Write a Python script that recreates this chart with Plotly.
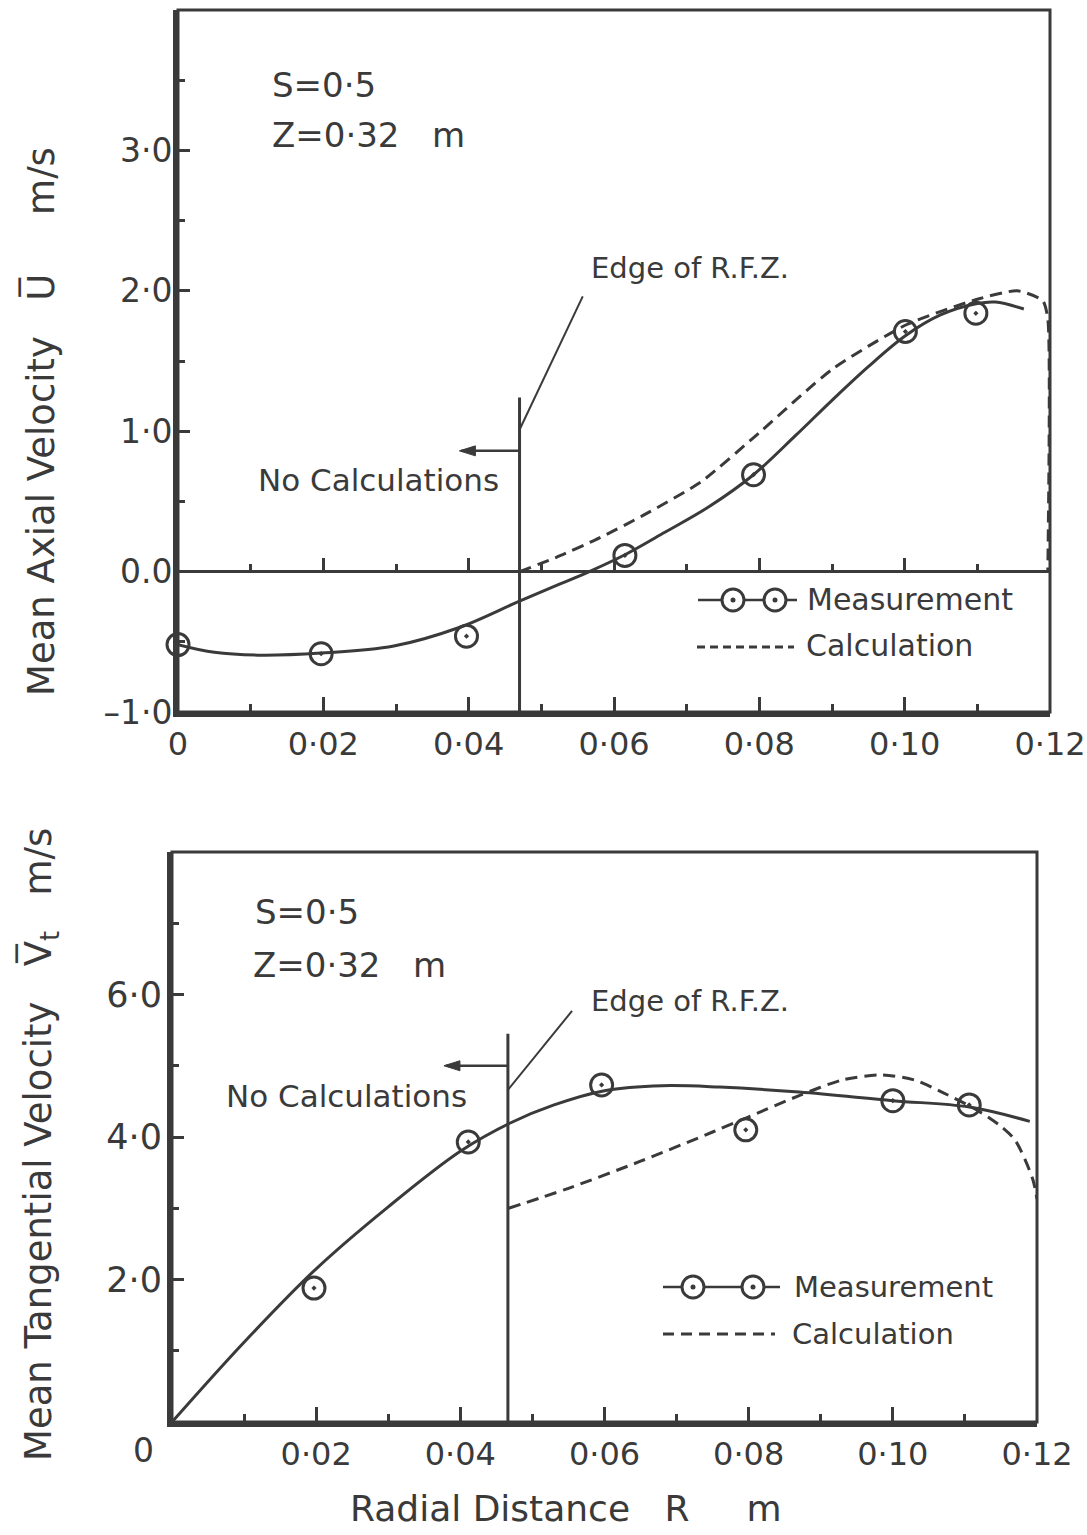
import plotly.graph_objects as go

W, H = 1087, 1535
INK = "#3a3a3a"
FONT = "DejaVu Sans"

# ---------------- data: top panel (mean axial velocity) ----------------
top_r_meas = [0.0, 0.0197, 0.0397, 0.0615, 0.0792, 0.1001, 0.1098]
top_u_meas = [-0.52, -0.585, -0.46, 0.115, 0.69, 1.71, 1.84]

top_r_fit = [0.0, 0.005, 0.011, 0.0197, 0.0297, 0.0386, 0.047, 0.0525, 0.0566,
             0.0615, 0.067, 0.073, 0.0792, 0.085, 0.090, 0.095, 0.1001,
             0.105, 0.110, 0.1125, 0.1164]
top_u_fit = [-0.52, -0.575, -0.595, -0.58, -0.53, -0.40, -0.21, -0.09, 0.0,
             0.12, 0.28, 0.46, 0.69, 0.97, 1.22, 1.46, 1.68,
             1.83, 1.91, 1.92, 1.87]

top_r_calc = [0.047, 0.052, 0.058, 0.064, 0.072, 0.080, 0.090, 0.1003,
              0.110, 0.1155, 0.119, 0.1197, 0.1197]
top_u_calc = [0.0, 0.10, 0.24, 0.40, 0.64, 0.99, 1.44, 1.76,
              1.94, 2.0, 1.93, 1.80, 0.0]

top_edge_r = 0.047
top_edge_top = 1.24

# ---------------- data: bottom panel (mean tangential velocity) ----------------
bot_r_meas = [0.0197, 0.0411, 0.0596, 0.0796, 0.100, 0.1106]
bot_v_meas = [1.88, 3.93, 4.73, 4.10, 4.51, 4.45]

bot_r_fit = [0.0, 0.01, 0.02, 0.03, 0.04, 0.047, 0.053, 0.06, 0.068,
             0.076, 0.087, 0.100, 0.1106, 0.119]
bot_v_fit = [0.0, 1.12, 2.15, 3.02, 3.80, 4.20, 4.45, 4.65, 4.72,
             4.70, 4.63, 4.51, 4.42, 4.22]

bot_r_calc = [0.0467, 0.055, 0.065, 0.075, 0.0797, 0.087, 0.093, 0.0983,
              0.103, 0.1068, 0.1118, 0.115, 0.117, 0.1194, 0.12]
bot_v_calc = [3.0, 3.28, 3.66, 4.07, 4.27, 4.58, 4.80, 4.87,
              4.80, 4.63, 4.37, 4.15, 3.95, 3.41, 3.13]

bot_edge_r = 0.0466
bot_edge_top = 5.45

# ---------------- tick labels ----------------
top_x_vals = [0, 0.02, 0.04, 0.06, 0.08, 0.10, 0.12]
top_x_text = ["0", "0·02", "0·04", "0·06", "0·08", "0·10", "0·12"]
bot_x_vals = [0.02, 0.04, 0.06, 0.08, 0.10, 0.12]
bot_x_text = ["0·02", "0·04", "0·06", "0·08", "0·10", "0·12"]
top_y_vals = [-1, 0, 1, 2, 3]
top_y_text = ["–1·0", "0.0", "1·0", "2·0", "3·0"]
bot_y_vals = [2, 4, 6]
bot_y_text = ["2·0", "4·0", "6·0"]


def pxx(x):
    return x / W


def pxy(y):
    return 1 - y / H


top_dom_x = [pxx(178), pxx(1050)]
top_dom_y = [pxy(712), pxy(10)]
bot_dom_x = [pxx(172), pxx(1037)]
bot_dom_y = [pxy(1422), pxy(852)]

fig = go.Figure()

line_solid = dict(color=INK, width=3, shape="spline", smoothing=1.0)
marker = dict(symbol="circle-open-dot", size=22, color=INK, line=dict(width=3, color=INK))

# top panel
fig.add_trace(go.Scatter(x=top_r_fit, y=top_u_fit, mode="lines", line=line_solid,
                         xaxis="x", yaxis="y", hoverinfo="skip", showlegend=False))
fig.add_trace(go.Scatter(x=top_r_calc, y=top_u_calc, mode="lines",
                         line=dict(color=INK, width=3, dash="12px,7px", shape="spline", smoothing=0.6),
                         xaxis="x", yaxis="y", hoverinfo="skip", showlegend=False))
fig.add_trace(go.Scatter(x=top_r_meas, y=top_u_meas, mode="markers", marker=marker,
                         cliponaxis=False, xaxis="x", yaxis="y", showlegend=False))

# bottom panel
fig.add_trace(go.Scatter(x=bot_r_fit, y=bot_v_fit, mode="lines", line=line_solid,
                         xaxis="x2", yaxis="y2", hoverinfo="skip", showlegend=False))
fig.add_trace(go.Scatter(x=bot_r_calc, y=bot_v_calc, mode="lines",
                         line=dict(color=INK, width=3, dash="12px,7px", shape="spline", smoothing=0.8),
                         xaxis="x2", yaxis="y2", hoverinfo="skip", showlegend=False))
fig.add_trace(go.Scatter(x=bot_r_meas, y=bot_v_meas, mode="markers", marker=marker,
                         cliponaxis=False, xaxis="x2", yaxis="y2", showlegend=False))

# helper trace for the tick axis drawn along the zero line of the top panel
fig.add_trace(go.Scatter(x=[0.06], y=[0], xaxis="x3", yaxis="y", mode="markers",
                         marker=dict(opacity=0), hoverinfo="skip", showlegend=False))

tickfont = dict(family=FONT, size=32, color=INK)


def xax(domain, anchor, vals, text):
    return dict(domain=domain, anchor=anchor, range=[0, 0.12], tickmode="array",
                tickvals=vals, ticktext=text, ticks="inside", ticklen=15,
                tickwidth=3, tickcolor=INK,
                minor=dict(ticks="inside", ticklen=8, tickwidth=3, tickcolor=INK,
                           tick0=0, dtick=0.01),
                showline=True, linewidth=5, linecolor=INK, showgrid=False,
                zeroline=False, tickfont=tickfont, ticklabelstandoff=0,
                automargin=False, fixedrange=True)


zero_pos = top_dom_y[0] + (0 - (-1)) / 5 * (top_dom_y[1] - top_dom_y[0])

fig.update_layout(
    width=W, height=H, margin=dict(l=0, r=0, t=0, b=0, pad=0, autoexpand=False),
    paper_bgcolor="white", plot_bgcolor="white",
    font=dict(family=FONT, color=INK),
    xaxis=xax(top_dom_x, "y", top_x_vals, top_x_text),
    xaxis2=xax(bot_dom_x, "y2", bot_x_vals, bot_x_text),
    xaxis3=dict(overlaying="x", anchor="free", position=zero_pos, range=[0, 0.12],
                tickmode="array", tickvals=top_x_vals, showticklabels=False,
                ticks="inside", ticklen=14, tickwidth=3, tickcolor=INK,
                minor=dict(ticks="inside", ticklen=8, tickwidth=3, tickcolor=INK,
                           tick0=0, dtick=0.01),
                showline=False, showgrid=False, zeroline=False, automargin=False,
                fixedrange=True),
    yaxis=dict(domain=top_dom_y, anchor="x", range=[-1, 4], tickmode="array",
               tickvals=top_y_vals, ticktext=top_y_text, ticks="inside", ticklen=12,
               tickwidth=3, tickcolor=INK,
               minor=dict(ticks="inside", ticklen=7, tickwidth=3, tickcolor=INK,
                          tick0=-1, dtick=0.5),
               showline=True, linewidth=5, linecolor=INK, showgrid=False,
               zeroline=True, zerolinecolor=INK, zerolinewidth=3,
               tickfont=dict(family=FONT, size=33, color=INK), ticklabelstandoff=-6,
               automargin=False, fixedrange=True),
    yaxis2=dict(domain=bot_dom_y, anchor="x2", range=[0, 8], tickmode="array",
                tickvals=bot_y_vals, ticktext=bot_y_text, ticks="inside", ticklen=12,
                tickwidth=3, tickcolor=INK,
                minor=dict(ticks="inside", ticklen=7, tickwidth=3, tickcolor=INK,
                           tick0=0, dtick=1),
                showline=True, linewidth=5, linecolor=INK, showgrid=False,
                zeroline=False, tickfont=dict(family=FONT, size=35, color=INK),
                ticklabelstandoff=-2, automargin=False, fixedrange=True),
)

shapes = []
# frames
for xr, yr in (("x domain", "y domain"), ("x2 domain", "y2 domain")):
    shapes.append(dict(type="rect", xref=xr, yref=yr, x0=0, x1=1, y0=0, y1=1,
                       line=dict(color=INK, width=3)))
# edge of RFZ lines and leader lines
shapes.append(dict(type="line", xref="x", yref="y", x0=top_edge_r, x1=top_edge_r,
                   y0=-1, y1=top_edge_top, line=dict(color=INK, width=3)))
shapes.append(dict(type="line", xref="x", yref="y", x0=top_edge_r, x1=0.0557,
                   y0=1.01, y1=1.96, line=dict(color=INK, width=2)))
shapes.append(dict(type="line", xref="x2", yref="y2", x0=bot_edge_r, x1=bot_edge_r,
                   y0=0, y1=bot_edge_top, line=dict(color=INK, width=3)))
shapes.append(dict(type="line", xref="x2", yref="y2", x0=bot_edge_r, x1=0.0555,
                   y0=4.66, y1=5.77, line=dict(color=INK, width=2)))


# "No Calculations" arrows: shaft + arrowhead
def arrow(xr, yr, x_from, x_to, y):
    return [
        dict(type="line", xref=xr, yref=yr, x0=x_from, x1=x_to, y0=y, y1=y,
             line=dict(color=INK, width=2.5)),
        dict(type="path", xref=xr, yref=yr, xsizemode="pixel", ysizemode="pixel",
             xanchor=x_to, yanchor=y, path="M -2,0 L 14,-5 L 14,5 Z",
             fillcolor=INK, line=dict(color=INK, width=1)),
    ]


shapes += arrow("x", "y", top_edge_r, 0.039, 0.86)
shapes += arrow("x2", "y2", bot_edge_r, 0.038, 5.0)


# legend glyphs (paper coordinates from pixel positions)
def legend_circle(cx, cy):
    return [
        dict(type="circle", xref="paper", yref="paper", xsizemode="pixel", ysizemode="pixel",
             xanchor=pxx(cx), yanchor=pxy(cy), x0=-11, x1=11, y0=-11, y1=11,
             fillcolor="white", line=dict(color=INK, width=3)),
        dict(type="circle", xref="paper", yref="paper", xsizemode="pixel", ysizemode="pixel",
             xanchor=pxx(cx), yanchor=pxy(cy), x0=-2.5, x1=2.5, y0=-2.5, y1=2.5,
             fillcolor=INK, line=dict(color=INK, width=0)),
    ]


def legend_line(xa, xb, y, dash=None, width=2.5):
    ln = dict(color=INK, width=width)
    if dash:
        ln["dash"] = dash
    return dict(type="line", xref="paper", yref="paper", x0=pxx(xa), x1=pxx(xb),
                y0=pxy(y), y1=pxy(y), line=ln)


shapes.append(legend_line(698, 797, 600))
shapes += legend_circle(733, 600) + legend_circle(775, 600)
shapes.append(legend_line(697, 794, 647, dash="8px,5px", width=3))
shapes.append(legend_line(663, 780, 1287))
shapes += legend_circle(693, 1287) + legend_circle(753, 1287)
shapes.append(legend_line(663, 775, 1334, dash="11px,7px", width=3))

fig.update_layout(shapes=shapes)

NB = "\u00a0"
annotations = []


def txt(text, x, y, size, xanchor="center", angle=0):
    annotations.append(dict(text=text, x=pxx(x), y=pxy(y), xref="paper", yref="paper",
                            xanchor=xanchor, yanchor="middle", showarrow=False,
                            textangle=angle, font=dict(family=FONT, size=size, color=INK)))


# top panel texts
txt("S=0·5", 270, 85, 34, "left")
txt("Z=0·32" + NB * 3 + "m", 270, 135, 34, "left")
txt("No Calculations", 378, 480, 31)
txt("Edge of R.F.Z.", 690, 268, 29)
txt("Measurement", 805, 600, 30, "left")
txt("Calculation", 804, 645, 30, "left")
# bottom panel texts
txt("S=0·5", 253, 912, 34, "left")
txt("Z=0·32" + NB * 3 + "m", 251, 965, 34, "left")
txt("No Calculations", 346, 1096, 31)
txt("Edge of R.F.Z.", 690, 1001, 29)
txt("Measurement", 792, 1287, 29, "left")
txt("Calculation", 790, 1334, 29, "left")
txt("0", 143, 1450, 33)
# axis titles
txt("Mean Axial Velocity" + NB * 3 + "U\u0305" + NB * 5 + "m/s", 40, 422, 37, angle=-90)
txt("Mean Tangential Velocity" + NB * 3 + "V\u0305<sub>t</sub>" + NB * 3 + "m/s", 40, 1145, 37, angle=-90)
txt("Radial Distance" + NB * 3 + "R" + NB * 5 + "m", 566, 1508, 36)

fig.update_layout(annotations=annotations)

fig.write_html(
    "out.html",
    config={"displayModeBar": False, "staticPlot": True},
    post_script="document.body.style.margin='0px';document.body.style.padding='0px';"
                "document.body.style.overflow='hidden';",
)
